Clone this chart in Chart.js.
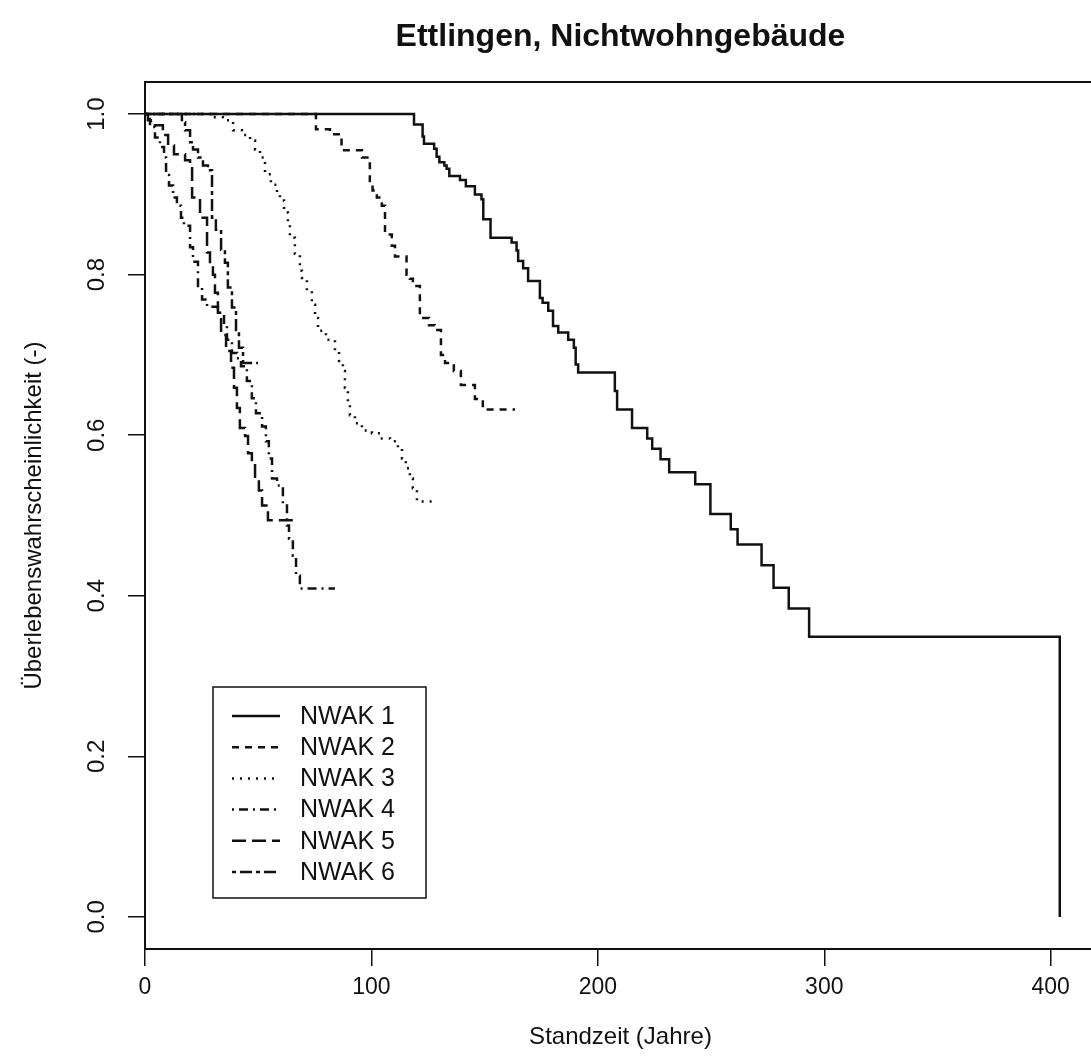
<!DOCTYPE html>
<html><head><meta charset="utf-8">
<script src="https://cdn.jsdelivr.net/npm/chart.js@4/dist/chart.umd.min.js"></script>
<style>
html,body{margin:0;padding:0;overflow:hidden;background:#fff;width:1091px;height:1061px}
#wrap{position:relative;width:1110px;height:1061px}
canvas{display:block}
</style></head>
<body><div id="wrap"><canvas id="c" width="1110" height="1061"></canvas></div>
<script>
const chartTitle = "Ettlingen, Nichtwohngebäude";
const xTitle = "Standzeit (Jahre)";
const yTitle = "Überlebenswahrscheinlichkeit (-)";
const seriesNames = ["NWAK 1","NWAK 2","NWAK 3","NWAK 4","NWAK 5","NWAK 6"];
const xTicks = [0,100,200,300,400];
const yTicks = [0,0.2,0.4,0.6,0.8,1.0];

const t1 = [0,118.8,122.6,123.2,127.7,128.8,130.0,132.2,133.2,134.4,139.1,141.7,145.7,148.6,149.4,152.6,161.9,164.1,164.8,167.0,169.2,174.4,175.6,178.1,180.2,182.5,186.9,189.4,190.2,191.3,207.5,208.5,215.1,221.8,224.0,227.7,231.5,243.0,249.7,258.7,261.7,272.3,277.6,284.3,293.3,404];
const s1 = [1,0.987,0.972,0.963,0.957,0.947,0.940,0.936,0.932,0.923,0.918,0.910,0.900,0.894,0.869,0.846,0.840,0.830,0.817,0.808,0.792,0.771,0.765,0.755,0.736,0.728,0.719,0.709,0.688,0.678,0.655,0.632,0.609,0.596,0.583,0.570,0.554,0.539,0.502,0.483,0.464,0.438,0.410,0.384,0.349,0.0];

const t2 = [0,75.5,81.7,86.8,95.8,99.3,100.5,102.4,104.6,106.0,109.0,110.4,115.5,117.0,118.3,121.4,125.4,128.0,130.7,132.5,136.4,139.5,145.7,149.2,163.4];
const s2 = [1,0.981,0.975,0.955,0.946,0.915,0.905,0.896,0.886,0.85,0.836,0.8225,0.80,0.795,0.786,0.746,0.737,0.731,0.70,0.69,0.68,0.6625,0.645,0.632,0.632];

const t3 = [0,30.0,34.4,38.9,42.8,46.4,48.6,50.8,53.0,55.6,58.3,59.6,61.4,63.1,64.0,66.2,68.4,69.3,71.5,73.7,75.1,76.4,79.9,83.9,85.7,87.4,88.3,89.6,90.5,92.7,95.8,100.2,103.8,108.2,111.7,113.5,115.2,117.0,118.3,120.1,127.2];
const s3 = [1,0.996,0.9925,0.98,0.974,0.967,0.956,0.946,0.925,0.912,0.9,0.8925,0.8775,0.8625,0.846,0.826,0.805,0.796,0.78,0.7625,0.746,0.73,0.719,0.705,0.6925,0.68,0.659,0.64,0.625,0.615,0.606,0.6025,0.596,0.5925,0.584,0.571,0.559,0.546,0.534,0.5175,0.5175];

const t4 = [0,0.9,2.2,4.4,6.6,8.4,9.3,10.6,12.4,14.1,15.9,17.2,19.9,21.2,23.4,25.2,27.4,32.2,34.9,36.2,38.4,40.6,42.4,45.0,47.2,49.0,51.7,53.4,54.7,56.1,58.3,60.9,62.7,63.6,65.3,66.7,68.4,83.9];
const s4 = [1,0.994,0.984,0.971,0.959,0.946,0.924,0.911,0.896,0.886,0.871,0.861,0.834,0.816,0.784,0.769,0.76,0.7525,0.736,0.719,0.7025,0.696,0.686,0.6675,0.646,0.6275,0.611,0.5925,0.571,0.546,0.5375,0.5125,0.4875,0.471,0.45,0.425,0.409,0.409];

const t5 = [0,1.3,2.6,7.9,10.2,12.8,17.7,19.9,20.8,24.3,27.4,28.7,30.0,30.9,32.2,33.6,35.8,38.0,39.3,40.6,41.9,44.2,45.5,47.2,48.6,50.3,51.7,54.3,66.2];
const s5 = [1,0.9925,0.986,0.974,0.961,0.95,0.9425,0.936,0.896,0.871,0.8275,0.811,0.8,0.7775,0.7525,0.725,0.705,0.684,0.659,0.634,0.609,0.599,0.5775,0.565,0.544,0.531,0.5125,0.494,0.494];

const t6 = [0,16.3,17.7,19.9,21.2,23.4,25.6,27.8,29.6,31.3,33.6,35.3,36.6,38.4,40.2,41.5,43.3,49.9];
const s6 = [1,0.99,0.98,0.965,0.956,0.946,0.936,0.93,0.871,0.856,0.831,0.815,0.784,0.759,0.731,0.709,0.69,0.69];

const allT = [t1,t2,t3,t4,t5,t6];
const allS = [s1,s2,s3,s4,s5,s6];
const dashes = [[], [7,6], [2,6], [2,5,9,5], [14,6], [4,4,12,4]];
const INK = '#111';
const FONT = "'Liberation Sans', Arial, sans-serif";

const datasets = seriesNames.map((name, i) => ({
  label: name,
  data: allT[i].map((t, j) => ({x: t, y: allS[i][j]})),
  stepped: 'before',
  borderColor: INK,
  borderWidth: 2.5,
  borderDash: dashes[i],
  borderCapStyle: 'butt',
  borderJoinStyle: 'miter',
  pointRadius: 0,
  fill: false,
  tension: 0
}));

const decor = {
  id: 'decor',
  afterDraw(chart) {
    const ctx = chart.ctx, a = chart.chartArea;
    ctx.save();
    ctx.strokeStyle = INK; ctx.lineWidth = 2; ctx.setLineDash([]);
    ctx.strokeRect(a.left, a.top, a.right - a.left, a.bottom - a.top);
    ctx.fillStyle = INK;
    ctx.font = "bold 32px " + FONT;
    ctx.textAlign = 'center'; ctx.textBaseline = 'middle';
    ctx.fillText(chartTitle, (a.left + a.right) / 2, 37);
    const lx = 213, ly = 687, lw = 213, lh = 211;
    ctx.fillStyle = '#fff';
    ctx.fillRect(lx, ly, lw, lh);
    ctx.lineWidth = 1.5;
    ctx.strokeRect(lx, ly, lw, lh);
    ctx.font = "25px " + FONT;
    ctx.textAlign = 'left'; ctx.textBaseline = 'middle';
    chart.data.datasets.forEach((ds, i) => {
      const y = 716 + i * 31.2;
      ctx.beginPath();
      ctx.setLineDash(ds.borderDash);
      ctx.lineWidth = 2.5;
      ctx.lineCap = 'butt';
      ctx.moveTo(232, y); ctx.lineTo(280, y);
      ctx.stroke();
      ctx.setLineDash([]);
      ctx.fillStyle = INK;
      ctx.fillText(ds.label, 300, y + 1);
    });
    ctx.restore();
  }
};

new Chart(document.getElementById('c'), {
  type: 'line',
  data: { datasets },
  options: {
    responsive: false,
    animation: false,
    events: [],
    layout: { padding: { top: 82, right: 14, left: 0, bottom: 0 } },
    plugins: { legend: { display: false }, tooltip: { enabled: false }, title: { display: false } },
    scales: {
      x: {
        type: 'linear', min: 0, max: 420,
        afterBuildTicks: s => { s.ticks = xTicks.map(v => ({value: v})); },
        afterFit: s => { s.height = 112; },
        grid: { drawOnChartArea: false, drawTicks: true, tickLength: 17, color: INK, lineWidth: 1.5 },
        border: { display: false },
        ticks: { color: INK, font: { family: FONT, size: 23 }, padding: 8, maxRotation: 0, minRotation: 0 },
        title: { display: true, text: xTitle, color: INK, font: { family: FONT, size: 24 }, padding: { top: 0, bottom: 9 } }
      },
      y: {
        type: 'linear', min: -0.04, max: 1.04,
        afterBuildTicks: s => { s.ticks = yTicks.map(v => ({value: v})); },
        afterFit: s => { s.width = 145; },
        grid: { drawOnChartArea: false, drawTicks: true, tickLength: 17, color: INK, lineWidth: 1.5 },
        border: { display: false },
        ticks: { color: INK, font: { family: FONT, size: 24 }, padding: 14, minRotation: 90, maxRotation: 90, crossAlign: 'center',
                 callback: v => Number(v).toFixed(1) },
        title: { display: true, text: yTitle, color: INK, font: { family: FONT, size: 24 }, padding: { top: 20, bottom: 0 } }
      }
    }
  },
  plugins: [decor]
});
</script>
</body></html>
